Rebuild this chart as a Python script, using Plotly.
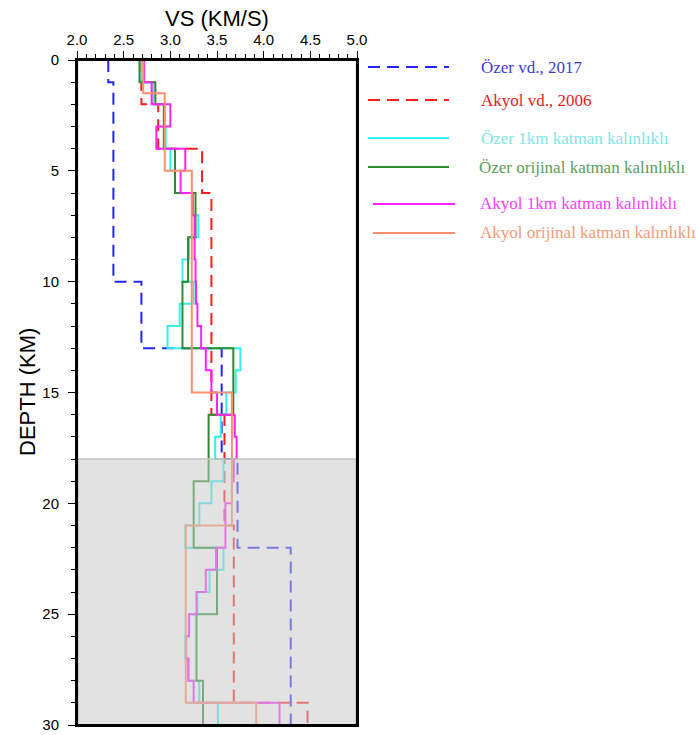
import plotly.graph_objects as go

# ---- velocity models (layer top depth in km, shear velocity in km/s) ----
ozer2017_top = [0, 1, 10, 13, 18, 22]
ozer2017_vs = [2.335, 2.39, 2.69, 3.55, 3.72, 4.29]

akyol2006_top = [0, 2, 4, 6, 16, 21, 29]
akyol2006_vs = [2.69, 2.87, 3.34, 3.44, 3.58, 3.68, 4.47]

ozer_1km_top = list(range(30))
ozer_1km_vs = [2.69, 2.82, 2.94, 2.95, 3.00, 3.05, 3.24, 3.30, 3.20, 3.13,
               3.25, 3.10, 2.97, 3.75, 3.70, 3.60, 3.54, 3.48, 3.57, 3.44,
               3.31, 3.16, 3.57, 3.42, 3.29, 3.20, 3.16, 3.20, 3.31, 3.51]

ozer_orig_top = [0, 1, 2, 4, 6, 8, 10, 13, 16, 19, 22, 25, 28]
ozer_orig_vs = [2.67, 2.84, 2.93, 3.05, 3.27, 3.19, 3.13, 3.675, 3.41, 3.25,
                3.50, 3.28, 3.35]

akyol_1km_top = list(range(30))
akyol_1km_vs = [2.72, 2.80, 3.00, 2.85, 3.16, 3.11, 3.24, 3.26, 3.26, 3.27,
                3.275, 3.29, 3.33, 3.38, 3.44, 3.50, 3.69, 3.71, 3.68, 3.66,
                3.59, 3.59, 3.49, 3.38, 3.28, 3.20, 3.17, 3.19, 3.25, 4.17]

akyol_orig_top = [0, 1.5, 5, 15, 21, 29]
akyol_orig_vs = [2.71, 2.94, 3.23, 3.66, 3.165, 3.92]

max_depth = 30
shaded_from = 18

series = [
    ("Özer vd., 2017", ozer2017_top, ozer2017_vs, "#2424ff", "#3b3bd6", "dash"),
    ("Akyol vd., 2006", akyol2006_top, akyol2006_vs, "#ff1c1c", "#f01818", "dash"),
    ("Özer 1km katman kalınlıklı", ozer_1km_top, ozer_1km_vs, "#33f0f0", "#80e6e6", "solid"),
    ("Özer orijinal katman kalınlıklı", ozer_orig_top, ozer_orig_vs, "#2e8b2e", "#5a9e5a", "solid"),
    ("Akyol 1km katman kalınlıklı", akyol_1km_top, akyol_1km_vs, "#ff22ff", "#ff40ff", "solid"),
    ("Akyol orijinal katman kalınlıklı", akyol_orig_top, akyol_orig_vs, "#ff8f6b", "#f79a78", "solid"),
]

DASH = "12px,7px"

fig = go.Figure()
for name, tops, vs, col, _, style in series:
    xs = list(vs) + [vs[-1]]
    ys = list(tops) + [max_depth]
    fig.add_trace(go.Scatter(
        x=xs, y=ys, mode="lines", name=name, line_shape="vh",
        line=dict(color=col, width=2, dash=DASH if style == "dash" else "solid"),
        showlegend=False, hoverinfo="skip"))

# plot-area geometry in pixels
W, H = 696, 735
L, R, T, B = 77, 357, 60, 725


def px_x(p):
    return (p - L) / (R - L)


def px_y(p):
    return 1 - (p - T) / (B - T)


shapes = [
    # shaded lower-crust band, drawn over the profiles
    dict(type="rect", xref="x domain", yref="y", x0=0, x1=1, y0=shaded_from, y1=max_depth,
         fillcolor="rgba(200,200,200,0.52)", line=dict(width=0), layer="above"),
    dict(type="line", xref="x domain", yref="y", x0=0, x1=1, y0=shaded_from, y1=shaded_from,
         line=dict(color="#c2c2c2", width=1.5), layer="above"),
    # frame
    dict(type="rect", xref="x domain", yref="y domain", x0=0, x1=1, y0=0, y1=1,
         line=dict(color="black", width=2.2), layer="above"),
]

annotations = [
    dict(text="VS (KM/S)", xref="paper", yref="paper", x=0.5, y=px_y(18),
         xanchor="center", yanchor="middle", showarrow=False,
         font=dict(family="Liberation Sans, Arial", size=22, color="black")),
    dict(text="DEPTH (KM)", xref="paper", yref="paper", x=px_x(27), y=px_y(392),
         xanchor="center", yanchor="middle", showarrow=False, textangle=-90,
         font=dict(family="Liberation Sans, Arial", size=22, color="black")),
]

# key on the right
key_rows = [(67, 368, 449, 479), (100, 368, 449, 479), (138, 368, 449, 479),
            (167, 368, 449, 477), (204, 373, 455, 478), (233, 373, 455, 478)]
for (name, _, _, col, tcol, style), (py, xa, xb, xt) in zip(series, key_rows):
    shapes.append(dict(type="line", xref="paper", yref="paper",
                       x0=px_x(xa), x1=px_x(xb), y0=px_y(py), y1=px_y(py),
                       line=dict(color=col, width=2.2, dash=DASH if style == "dash" else "solid")))
    annotations.append(dict(text=name, xref="paper", yref="paper", x=px_x(xt), y=px_y(py),
                            xanchor="left", yanchor="middle", showarrow=False,
                            font=dict(family="Liberation Serif, Times New Roman", size=17, color=tcol)))

fig.update_layout(
    width=W, height=H,
    margin=dict(l=L, r=W - R, t=T, b=H - B, pad=0, autoexpand=False),
    paper_bgcolor="white", plot_bgcolor="white",
    shapes=shapes, annotations=annotations,
    font=dict(family="Liberation Sans, Arial", size=14, color="black"),
)
fig.update_xaxes(
    range=[2.0, 5.0], side="top", tickmode="array", automargin=False,
    tickvals=[2.0, 2.5, 3.0, 3.5, 4.0, 4.5, 5.0],
    ticktext=["2.0", "2.5", "3.0", "3.5", "4.0", "4.5", "5.0"],
    ticks="outside", ticklen=7, tickwidth=1.2, tickcolor="black",
    minor=dict(dtick=0.1, ticks="outside", ticklen=4, tickwidth=1, tickcolor="black", showgrid=False),
    showgrid=False, zeroline=False, showline=True, linecolor="black", linewidth=2, mirror=True,
    tickfont=dict(size=15),
)
fig.update_yaxes(
    range=[max_depth, 0], tickmode="array", tickvals=[0, 5, 10, 15, 20, 25, 30], automargin=False,
    ticks="outside", ticklen=7, tickwidth=1.2, tickcolor="black",
    minor=dict(dtick=1, ticks="outside", ticklen=4, tickwidth=1, tickcolor="black", showgrid=False),
    showgrid=False, zeroline=False, showline=True, linecolor="black", linewidth=2, mirror=True,
    tickfont=dict(size=15), ticklabelstandoff=6,
)

fig.write_html("out.html")
